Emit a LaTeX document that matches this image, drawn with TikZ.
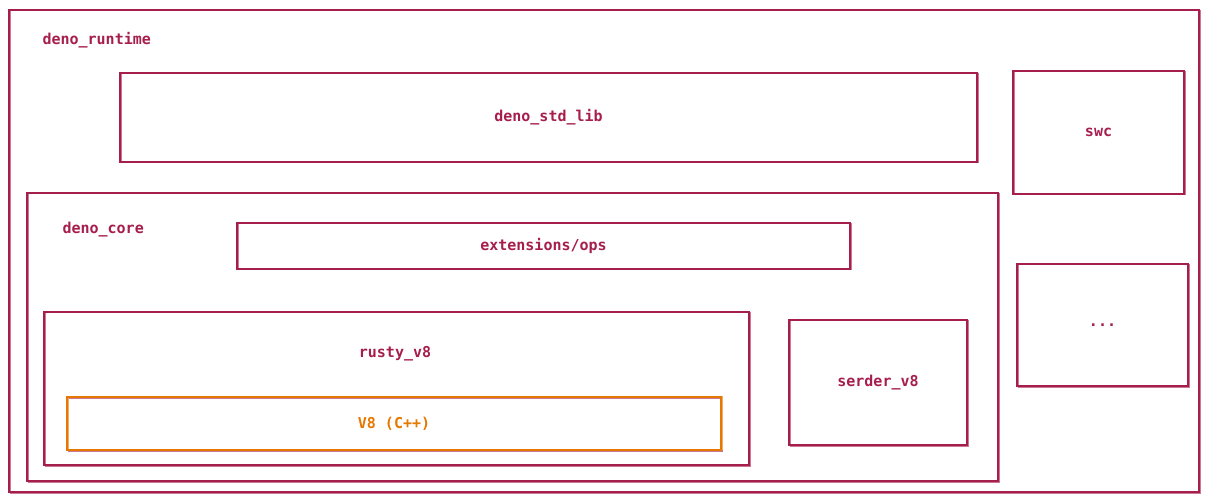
\documentclass[tikz,border=0pt]{standalone}
\usepackage{fontspec}
\setmonofont{DejaVu Sans Mono}
\definecolor{denored}{HTML}{A61E4D}
\definecolor{denoorange}{HTML}{E67700}
\tikzset{
  box/.style={draw=denored, line width=1.2pt, inner sep=0pt,
    preaction={draw=denored!60, line width=0.6pt, transform canvas={xshift=1pt,yshift=-0.8pt}}},
  orangebox/.style={box, draw=denoorange,
    preaction={draw=denoorange!60, line width=0.6pt, transform canvas={xshift=0.8pt,yshift=1pt}}},
  lbl/.style={text=denored, font=\ttfamily\bfseries\fontsize{15}{18}\selectfont}
}
\begin{document}
\begin{tikzpicture}[x=1pt,y=-1pt]
  \useasboundingbox (0,0) rectangle (1209,502);
  % aeussere Box
  \node[box, minimum width=1190pt, minimum height=482pt] (runtime) at (604,251) {};
  \node[lbl, anchor=west] (runtimelbl) at (39,40) {deno\_runtime};
  % obere Reihe
  \node[box, minimum width=857pt, minimum height=89pt, lbl] (stdlib) at (548.5,117.5) {deno\_std\_lib};
  \node[box, minimum width=171pt, minimum height=123pt, lbl] (swc) at (1098.5,132.5) {swc};
  \node[box, minimum width=171pt, minimum height=122pt, lbl] (more) at (1102.5,325) {...};
  % deno_core
  \node[box, minimum width=971pt, minimum height=288pt] (core) at (512.5,337) {};
  \node[lbl, anchor=west] (corelbl) at (59,230) {deno\_core};
  \node[box, minimum width=613pt, minimum height=46pt, lbl] (ops) at (543.5,246) {extensions/ops};
  \node[box, minimum width=178pt, minimum height=125pt, lbl] (serder) at (878,382.5) {serder\_v8};
  % rusty_v8 mit V8
  \node[box, minimum width=705pt, minimum height=153pt] (rusty) at (396.5,388.5) {};
  \node[lbl] (rustylbl) at (395,354) {rusty\_v8};
  \node[orangebox, minimum width=654pt, minimum height=53pt, lbl, text=denoorange] (veight) at (394,423.5) {V8 (C++)};
\end{tikzpicture}
\end{document}
